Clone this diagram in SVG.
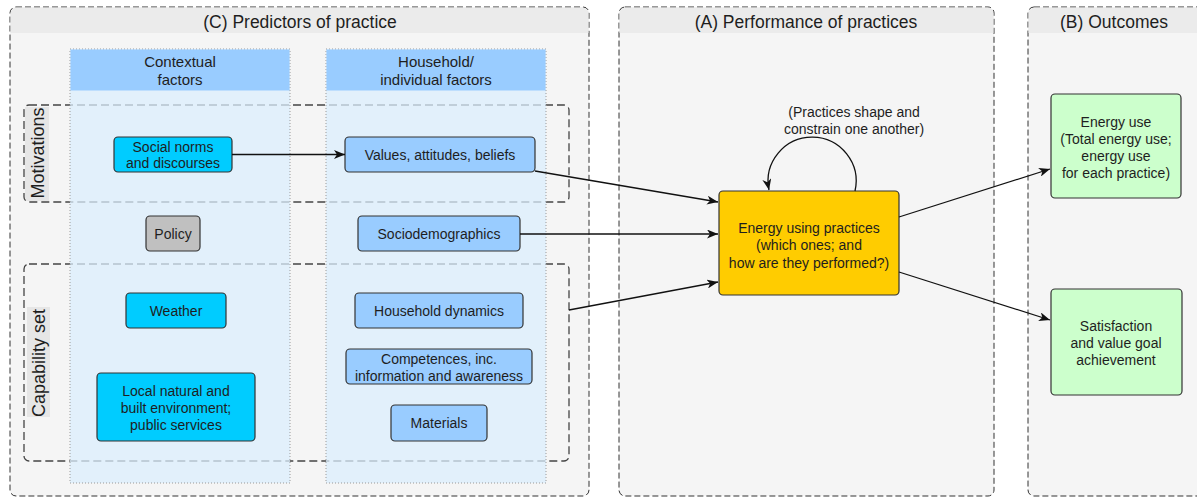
<svg xmlns="http://www.w3.org/2000/svg" width="1197" height="497" viewBox="0 0 1197 497">
<style>
text{font-family:"Liberation Sans",Arial,sans-serif;fill:#1e1e1e;text-anchor:middle}
.title{font-size:17.5px}
.hdr{font-size:15px}
.n{font-size:14px}
.lbl{font-size:18px}
.panel{fill:#f5f5f5;stroke:#333;stroke-width:1;stroke-dasharray:6 3}
.pband{fill:#ebebeb}
.grp{fill:none;stroke:#444;stroke-width:1.3;stroke-dasharray:8 4}
.col{fill:#dbeefc;fill-opacity:0.75;stroke:#999;stroke-width:1;stroke-dasharray:1 2}
.colh{fill:#99ccff}
.node{stroke:#333;stroke-width:1.2}
.ctx{fill:#00ccff}
.hh{fill:#99ccff}
.pol{fill:#c0c0c0}
.prac{fill:#ffcc00}
.out{fill:#ccffcc}
.edge{fill:none;stroke:#111;stroke-width:1.3}
</style>
<defs>
<marker id="arr" markerUnits="userSpaceOnUse" markerWidth="12" markerHeight="9" refX="11" refY="4.5" orient="auto">
<path d="M0,0 L11,4.5 L0,9 L3,4.5 z" fill="#111"/>
</marker>
</defs>

<g id="panel-C">
<rect class="panel" x="10" y="7" width="579" height="489" rx="6"/>
<path class="pband" d="M16.5,7.5 H582.5 A6,6 0 0 1 588.5,13.5 V33 H10.5 V13.5 A6,6 0 0 1 16.5,7.5 Z"/>
<text class="title" x="300" y="28">(C) Predictors of practice</text>
</g>
<g id="panel-A">
<rect class="panel" x="619" y="7" width="375" height="489" rx="6"/>
<path class="pband" d="M625.5,7.5 H987.5 A6,6 0 0 1 993.5,13.5 V33 H619.5 V13.5 A6,6 0 0 1 625.5,7.5 Z"/>
<text class="title" x="806" y="28">(A) Performance of practices</text>
</g>
<g id="panel-B">
<rect class="panel" x="1028" y="7" width="190" height="489" rx="6"/>
<path class="pband" d="M1034.5,7.5 H1197 V33 H1028.5 V13.5 A6,6 0 0 1 1034.5,7.5 Z"/>
<text class="title" x="1114" y="28">(B) Outcomes</text>
</g>

<g id="motivations">
<rect x="25" y="107" width="24" height="94" fill="#e6e6e6"/>
<rect class="grp" x="24" y="105" width="545" height="97" rx="5"/>
<text class="lbl" transform="translate(44,153) rotate(-90)">Motivations</text>
</g>
<g id="capability-set">
<rect x="27" y="307" width="23" height="110" fill="#e6e6e6"/>
<rect class="grp" x="24" y="264" width="545" height="197" rx="5"/>
<text class="lbl" transform="translate(45,363) rotate(-90)">Capability set</text>
</g>

<g id="col-contextual">
<rect class="col" x="70" y="49" width="220" height="434"/>
<rect class="colh" x="70.5" y="49.5" width="219" height="41"/>
<text class="hdr" x="180" y="67">Contextual</text>
<text class="hdr" x="180" y="85">factors</text>
</g>
<g id="col-household">
<rect class="col" x="326" y="49" width="220" height="434"/>
<rect class="colh" x="326.5" y="49.5" width="219" height="41"/>
<text class="hdr" x="436" y="67">Household/</text>
<text class="hdr" x="436" y="85">individual factors</text>
</g>

<g id="social-norms">
<rect class="node ctx" x="114" y="137" width="118" height="35" rx="4"/>
<text class="n" x="173" y="152">Social norms</text>
<text class="n" x="173" y="168">and discourses</text>
</g>
<g id="values">
<rect class="node hh" x="345" y="137" width="190" height="35" rx="4"/>
<text class="n" x="440" y="159.5">Values, attitudes, beliefs</text>
</g>
<g id="policy">
<rect class="node pol" x="146" y="216" width="54" height="35" rx="4"/>
<text class="n" x="173" y="238.5">Policy</text>
</g>
<g id="sociodemographics">
<rect class="node hh" x="358" y="216" width="162" height="35" rx="4"/>
<text class="n" x="439" y="238.5">Sociodemographics</text>
</g>
<g id="weather">
<rect class="node ctx" x="126" y="293" width="100" height="35" rx="4"/>
<text class="n" x="176" y="315.5">Weather</text>
</g>
<g id="local-environment">
<rect class="node ctx" x="97" y="373" width="158" height="68" rx="4"/>
<text class="n" x="176" y="396">Local natural and</text>
<text class="n" x="176" y="413">built environment;</text>
<text class="n" x="176" y="430">public services</text>
</g>
<g id="household-dynamics">
<rect class="node hh" x="355" y="293" width="168" height="35" rx="4"/>
<text class="n" x="439" y="315.5">Household dynamics</text>
</g>
<g id="competences">
<rect class="node hh" x="346" y="349" width="186" height="35" rx="4"/>
<text class="n" x="439" y="364">Competences, inc.</text>
<text class="n" x="439" y="381">information and awareness</text>
</g>
<g id="materials">
<rect class="node hh" x="391" y="405" width="96" height="36" rx="4"/>
<text class="n" x="439" y="428">Materials</text>
</g>

<g id="energy-practices">
<rect class="node prac" x="719" y="191" width="180" height="104" rx="4"/>
<text class="n" x="809" y="233">Energy using practices</text>
<text class="n" x="809" y="250">(which ones; and</text>
<text class="n" x="809" y="268">how are they performed?)</text>
</g>
<g id="loop-label">
<text class="n" x="854" y="117">(Practices shape and</text>
<text class="n" x="854" y="134">constrain one another)</text>
</g>
<g id="energy-use">
<rect class="node out" x="1051" y="94" width="130" height="104" rx="4"/>
<text class="n" x="1116" y="127">Energy use</text>
<text class="n" x="1116" y="144">(Total energy use;</text>
<text class="n" x="1116" y="161">energy use</text>
<text class="n" x="1116" y="178">for each practice)</text>
</g>
<g id="satisfaction">
<rect class="node out" x="1051" y="289" width="131" height="106" rx="4"/>
<text class="n" x="1116" y="331">Satisfaction</text>
<text class="n" x="1116" y="348">and value goal</text>
<text class="n" x="1116" y="365">achievement</text>
</g>

<g id="connectors">
<line class="edge" x1="232" y1="154.5" x2="345" y2="154.5" marker-end="url(#arr)"/>
<line class="edge" x1="535" y1="171" x2="718" y2="202" marker-end="url(#arr)"/>
<line class="edge" x1="520" y1="234" x2="718" y2="234" marker-end="url(#arr)"/>
<line class="edge" x1="569" y1="310" x2="718" y2="282" marker-end="url(#arr)"/>
<path class="edge" d="M855,191 A44,44 0 1 0 769,190" marker-end="url(#arr)"/>
<line class="edge" x1="899" y1="217" x2="1050" y2="169" marker-end="url(#arr)"/>
<line class="edge" x1="899" y1="272" x2="1050" y2="320" marker-end="url(#arr)"/>
</g>
</svg>
